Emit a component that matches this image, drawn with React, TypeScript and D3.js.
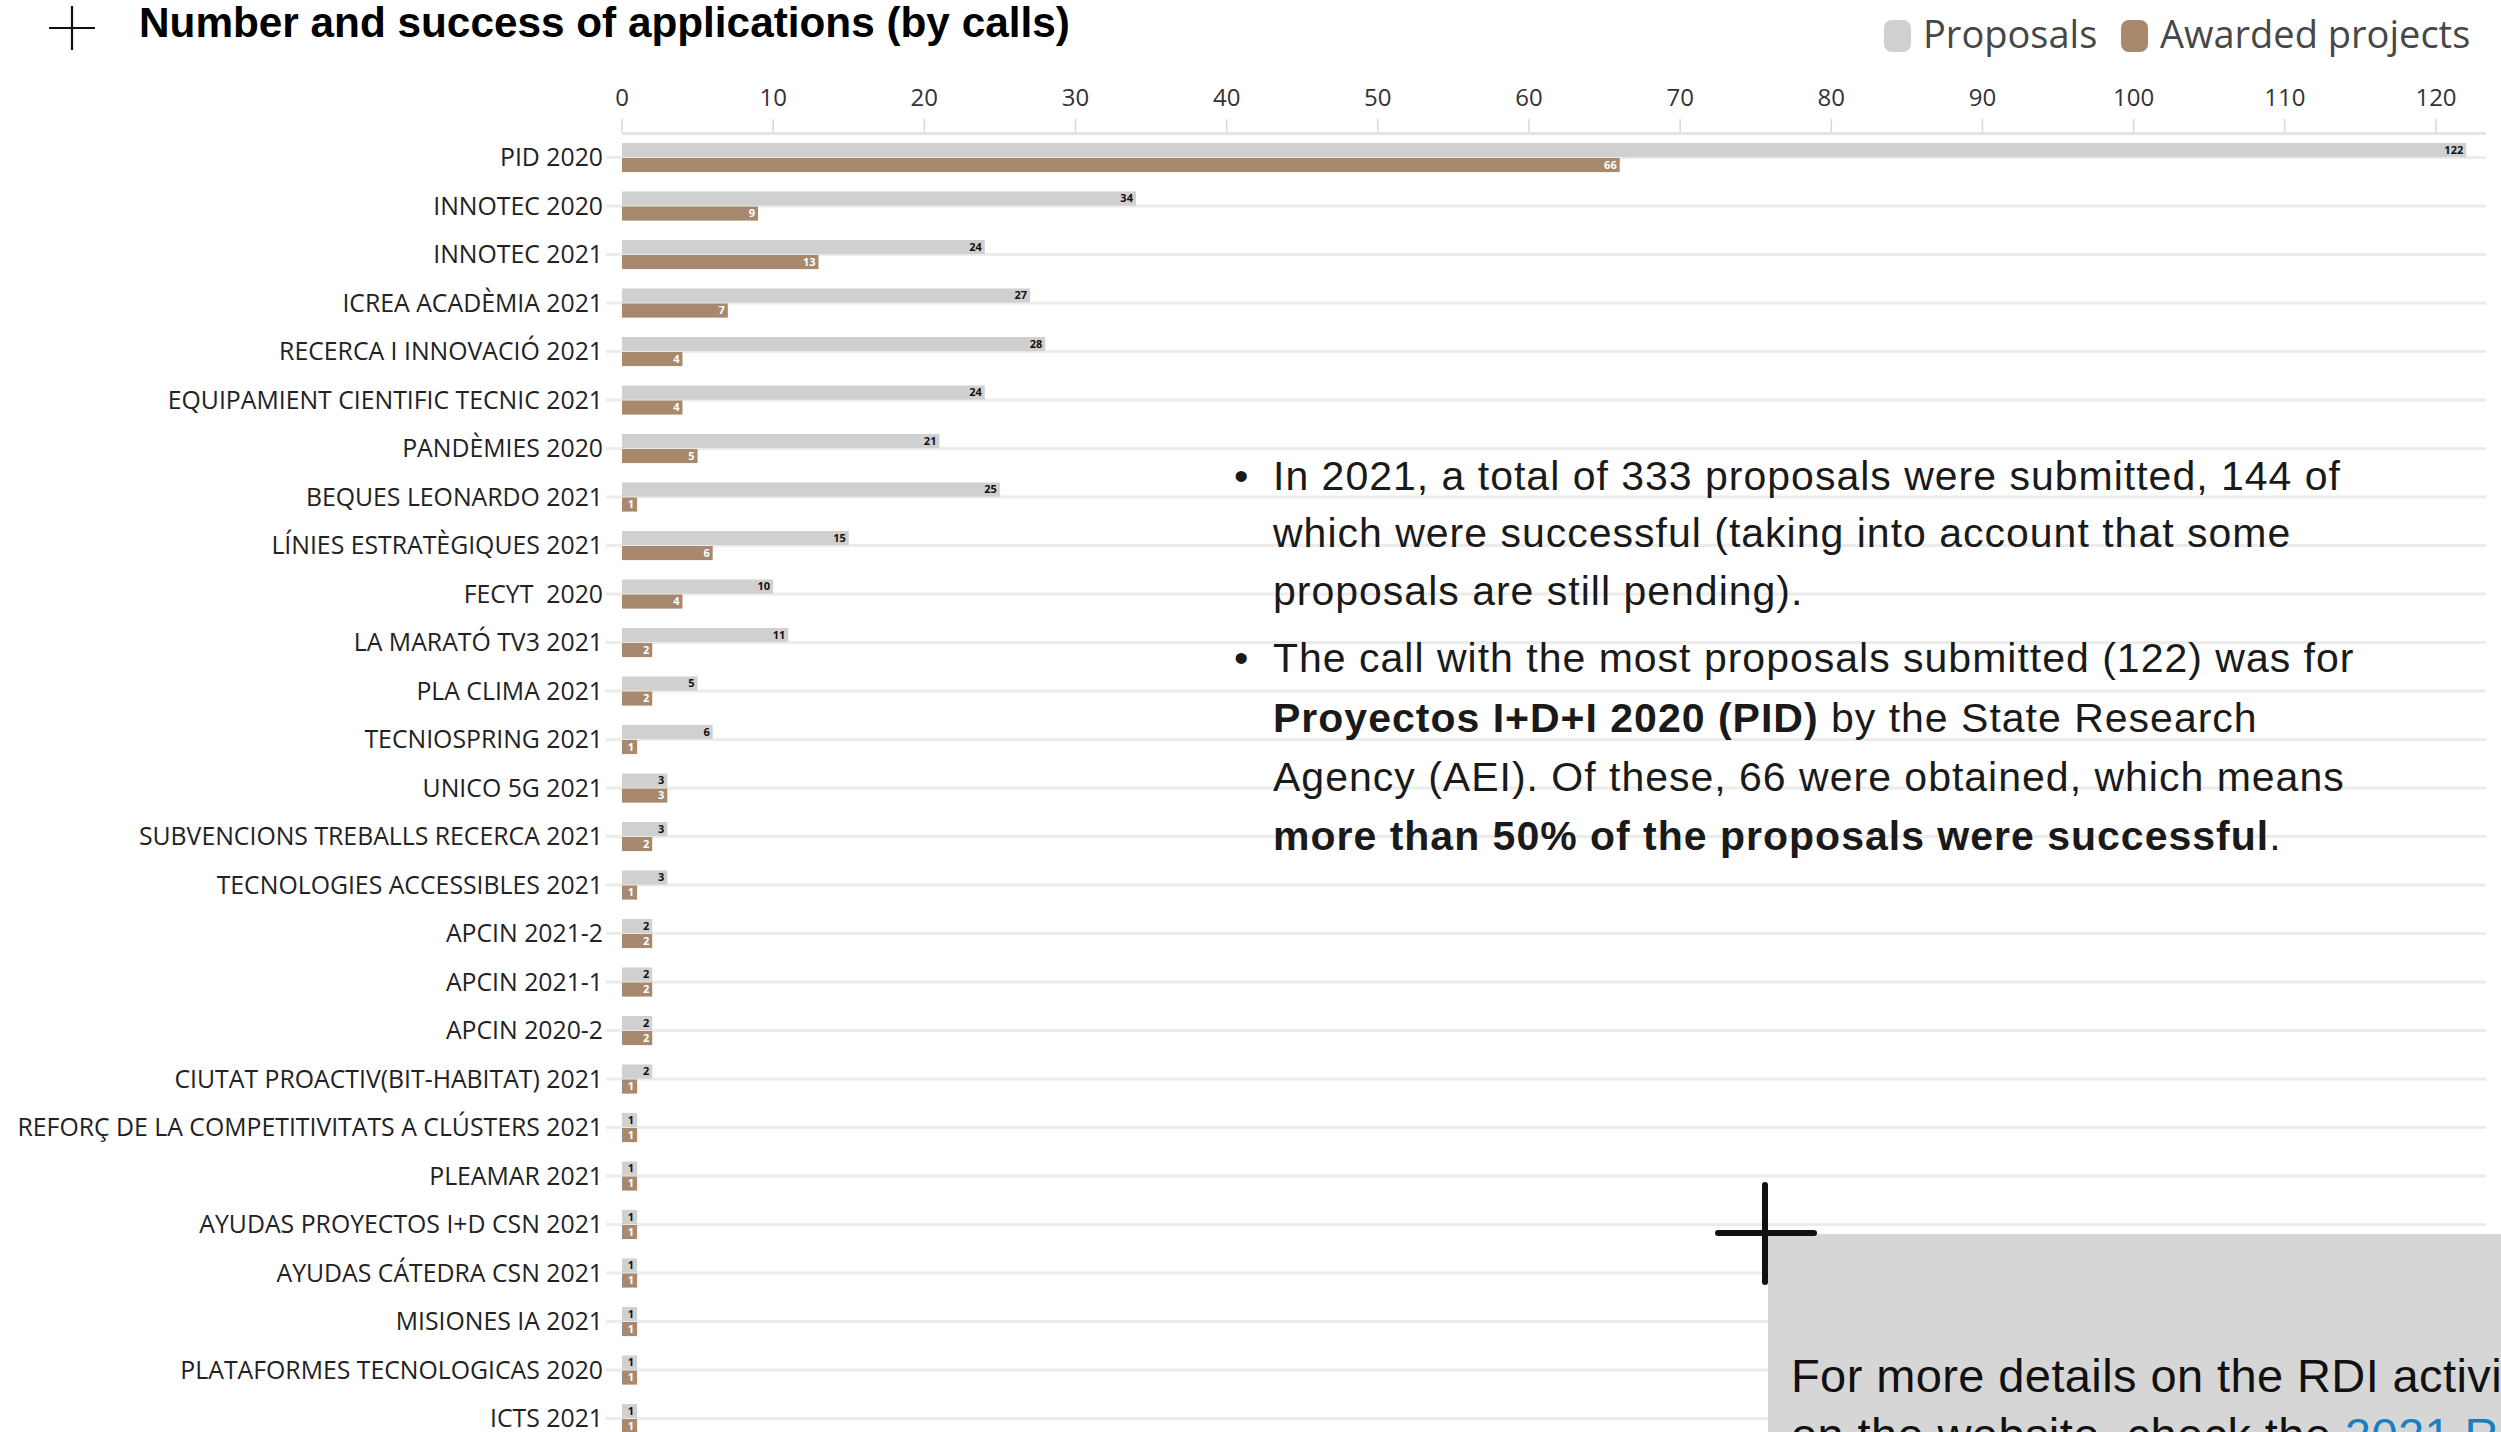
import React from "react";
import * as d3 from "d3";

const categories = [
  "PID 2020",
  "INNOTEC 2020",
  "INNOTEC 2021",
  "ICREA ACADÈMIA 2021",
  "RECERCA I INNOVACIÓ 2021",
  "EQUIPAMIENT CIENTIFIC TECNIC 2021",
  "PANDÈMIES 2020",
  "BEQUES LEONARDO 2021",
  "LÍNIES ESTRATÈGIQUES 2021",
  "FECYT  2020",
  "LA MARATÓ TV3 2021",
  "PLA CLIMA 2021",
  "TECNIOSPRING 2021",
  "UNICO 5G 2021",
  "SUBVENCIONS TREBALLS RECERCA 2021",
  "TECNOLOGIES ACCESSIBLES 2021",
  "APCIN 2021-2",
  "APCIN 2021-1",
  "APCIN 2020-2",
  "CIUTAT PROACTIV(BIT-HABITAT) 2021",
  "REFORÇ DE LA COMPETITIVITATS A CLÚSTERS 2021",
  "PLEAMAR 2021",
  "AYUDAS PROYECTOS I+D CSN 2021",
  "AYUDAS CÁTEDRA CSN 2021",
  "MISIONES IA 2021",
  "PLATAFORMES TECNOLOGICAS 2020",
  "ICTS 2021",
];

const proposals = [122, 34, 24, 27, 28, 24, 21, 25, 15, 10, 11, 5, 6, 3, 3, 3, 2, 2, 2, 2, 1, 1, 1, 1, 1, 1, 1];
const awarded = [66, 9, 13, 7, 4, 4, 5, 1, 6, 4, 2, 2, 1, 3, 2, 1, 2, 2, 2, 1, 1, 1, 1, 1, 1, 1, 1];

const seriesNames = ["Proposals", "Awarded projects"];
const seriesColors = ["#d0d0d0", "#a8896e"];
const xTickValues = [0, 10, 20, 30, 40, 50, 60, 70, 80, 90, 100, 110, 120];

const titleText = "Number and success of applications (by calls)";

const W = 2501;
const H = 1432;

export default function App() {
  const x = d3.scaleLinear().domain([0, 120]).range([622, 2436]);
  const y = d3
    .scaleBand<string>()
    .domain(categories)
    .range([133.3, 1442.8])
    .paddingInner(0.4)
    .paddingOuter(0.2);
  const sub = d3
    .scaleBand<string>()
    .domain(seriesNames)
    .range([0, y.bandwidth()])
    .paddingInner(0.06);
  const series = [proposals, awarded];
  const gridEnd = 2486;
  const labelFont = "'Open Sans', 'Noto Sans', sans-serif";
  const helv = "'Liberation Sans', Arial, Helvetica, sans-serif";

  const bodyLines: { y: number; bullet: boolean; parts: { t: string; b?: boolean }[] }[] = [
    { y: 490, bullet: true, parts: [{ t: "In 2021, a total of 333 proposals were submitted, 144 of" }] },
    { y: 547, bullet: false, parts: [{ t: "which were successful (taking into account that some" }] },
    { y: 605, bullet: false, parts: [{ t: "proposals are still pending)." }] },
    { y: 672, bullet: true, parts: [{ t: "The call with the most proposals submitted (122) was for" }] },
    { y: 732, bullet: false, parts: [{ t: "Proyectos I+D+I 2020 (PID)", b: true }, { t: " by the State Research" }] },
    { y: 791, bullet: false, parts: [{ t: "Agency (AEI). Of these, 66 were obtained, which means" }] },
    { y: 850, bullet: false, parts: [{ t: "more than 50% of the proposals were successful", b: true }, { t: "." }] },
  ];

  return (
    <svg
      width={W}
      height={H}
      viewBox={`0 0 ${W} ${H}`}
      style={{ position: "absolute", left: 0, top: 0, background: "#fff", overflow: "hidden" }}
    >
      <rect x={0} y={0} width={W} height={H} fill="#ffffff" />

      {/* top-left plus */}
      <g stroke="#111" strokeWidth={2.2}>
        <line x1={49} x2={95} y1={28} y2={28} />
        <line x1={72} x2={72} y1={6} y2={50} />
      </g>

      {/* title */}
      <text x={139} y={37} fontFamily={helv} fontWeight={700} fontSize={42.3} fill="#000">
        {titleText}
      </text>

      {/* legend */}
      <g fontFamily={labelFont} fontSize={38} fill="#474747">
        <rect x={1884} y={20} width={27} height={32} rx={8} fill={seriesColors[0]} />
        <text x={1923} y={48}>{seriesNames[0]}</text>
        <rect x={2121} y={20} width={27} height={32} rx={8} fill={seriesColors[1]} />
        <text x={2160} y={48}>{seriesNames[1]}</text>
      </g>

      {/* axis ticks */}
      <g fontFamily={labelFont} fontSize={24} fill="#333">
        {xTickValues.map((t) => (
          <g key={t}>
            <text x={x(t)} y={96} textAnchor="middle" dominantBaseline="central">
              {t}
            </text>
            <line x1={x(t)} x2={x(t)} y1={119} y2={132} stroke="#d8d8d8" strokeWidth={1.5} />
          </g>
        ))}
        <line x1={x(0)} x2={gridEnd} y1={133.5} y2={133.5} stroke="#e4e4e4" strokeWidth={3} />
      </g>

      {/* gridlines */}
      <g stroke="#ececec" strokeWidth={3}>
        {categories.map((c) => {
          const cy = (y(c) as number) + y.bandwidth() / 2;
          return <line key={c} x1={606} x2={gridEnd} y1={cy} y2={cy} />;
        })}
      </g>

      {/* category labels */}
      <g fontFamily={labelFont} fontSize={24.8} fill="#222" textAnchor="end">
        {categories.map((c) => {
          const cy = (y(c) as number) + y.bandwidth() / 2;
          return (
            <text key={c} x={603} y={cy} dy="0.35em" style={{ whiteSpace: "pre" }}>
              {c}
            </text>
          );
        })}
      </g>

      {/* bars */}
      {series.map((vals, si) => (
        <g key={si}>
          {categories.map((c, i) => {
            const by = (y(c) as number) + (sub(seriesNames[si]) as number);
            const bw = x(vals[i]) - x(0);
            return (
              <g key={c}>
                <rect x={x(0)} y={by} width={bw} height={sub.bandwidth()} fill={seriesColors[si]} />
                <text
                  x={x(vals[i]) - 3}
                  y={by + sub.bandwidth() / 2}
                  dy="0.35em"
                  textAnchor="end"
                  fontFamily={labelFont}
                  fontWeight={700}
                  fontSize={11}
                  fill={si === 0 ? "#111" : "#fff"}
                >
                  {vals[i]}
                </text>
              </g>
            );
          })}
        </g>
      ))}

      {/* commentary text */}
      <g fontFamily={helv} fontSize={41} fill="#1a1a1a" letterSpacing={1}>
        {bodyLines.map((ln, i) => (
          <g key={i}>
            {ln.bullet && (
              <text x={1234} y={ln.y}>
                •
              </text>
            )}
            <text x={1273} y={ln.y} style={{ whiteSpace: "pre" }}>
              {ln.parts.map((p, j) => (
                <tspan key={j} fontWeight={p.b ? 700 : 400}>
                  {p.t}
                </tspan>
              ))}
            </text>
          </g>
        ))}
      </g>

      {/* bottom-right box */}
      <rect x={1768} y={1234} width={W - 1768} height={H - 1234} fill="#d6d6d6" />
      <g fontFamily={helv} fontSize={47} fill="#111" letterSpacing={0.4}>
        <text x={1791} y={1392}>For more details on the RDI activities of the university,</text>
        <text x={1791} y={1451} style={{ whiteSpace: "pre" }}>
          on the website, check the <tspan fill="#1a7fc1">2021 R&amp;D report</tspan>
        </text>
      </g>
      <g stroke="#111" strokeWidth={6} strokeLinecap="round">
        <line x1={1718} x2={1814} y1={1233} y2={1233} />
        <line x1={1765} x2={1765} y1={1185} y2={1282} />
      </g>
    </svg>
  );
}
